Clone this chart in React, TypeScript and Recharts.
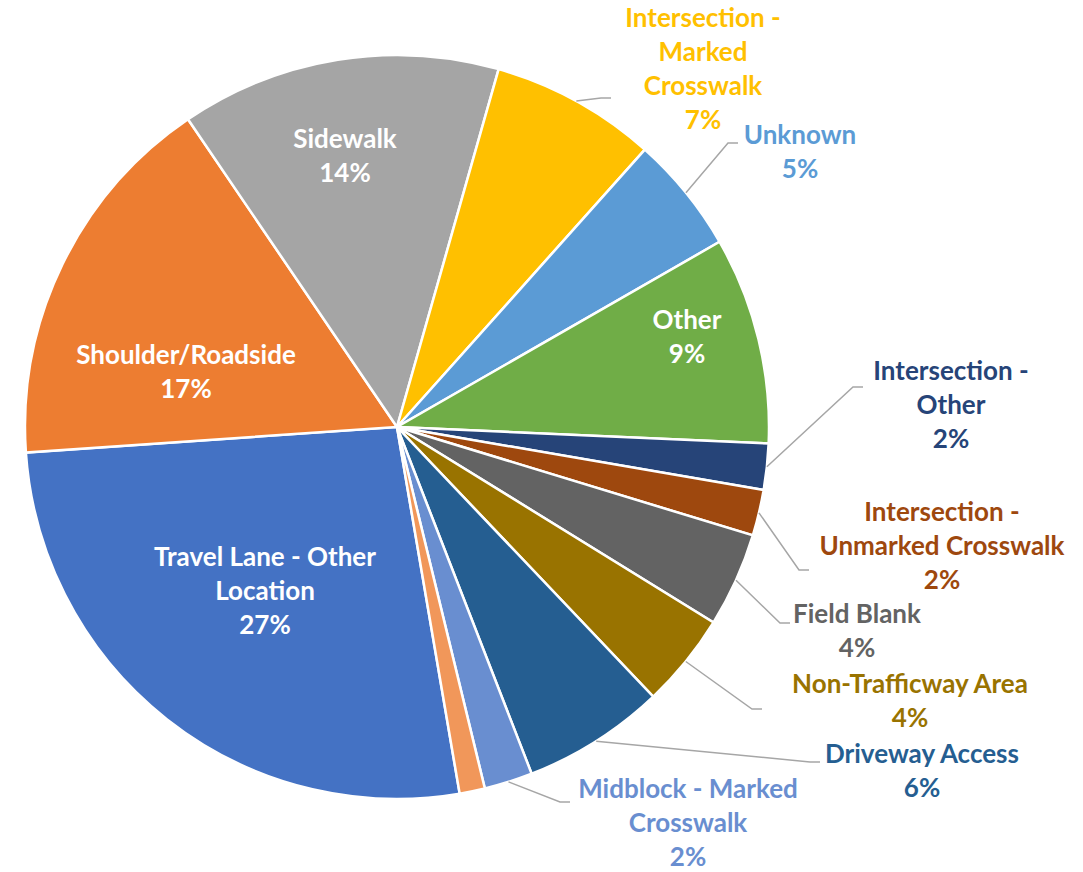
import { Cell, Pie, PieChart } from "recharts";

// location categories, in the order the slices run clockwise
const categories = [
  "Travel Lane - Other Location",
  "Shoulder/Roadside",
  "Sidewalk",
  "Intersection - Marked Crosswalk",
  "Unknown",
  "Other",
  "Intersection - Other",
  "Intersection - Unmarked Crosswalk",
  "Field Blank",
  "Non-Trafficway Area",
  "Driveway Access",
  "Midblock - Marked Crosswalk",
  "Midblock - Unmarked Crosswalk",
];

// share of all cases, percent
const shares = [26.6, 16.6, 13.9, 7.2, 5.1, 9.0, 2.0, 2.0, 4.1, 4.1, 6.2, 2.1, 1.1];

const colors = [
  "#4472C4",
  "#ED7D31",
  "#A5A5A5",
  "#FFC000",
  "#5B9BD5",
  "#70AD47",
  "#264478",
  "#9E480E",
  "#636363",
  "#997300",
  "#255E91",
  "#698ED0",
  "#F1975A",
];

// how the label text wraps (the percent line is added below)
const labelLines: Record<string, string[]> = {
  "Travel Lane - Other Location": ["Travel Lane - Other", "Location"],
  "Shoulder/Roadside": ["Shoulder/Roadside"],
  Sidewalk: ["Sidewalk"],
  "Intersection - Marked Crosswalk": ["Intersection -", "Marked", "Crosswalk"],
  Unknown: ["Unknown"],
  Other: ["Other"],
  "Intersection - Other": ["Intersection -", "Other"],
  "Intersection - Unmarked Crosswalk": ["Intersection -", "Unmarked Crosswalk"],
  "Field Blank": ["Field Blank"],
  "Non-Trafficway Area": ["Non-Trafficway Area"],
  "Driveway Access": ["Driveway Access"],
  "Midblock - Marked Crosswalk": ["Midblock - Marked", "Crosswalk"],
};

// label placement relative to the pie centre; `end` = where the leader line stops
type Spot = { dx: number; dy: number; inside?: boolean; end?: [number, number] };
const labelSpots: Record<string, Spot> = {
  "Travel Lane - Other Location": { dx: -132, dy: 164, inside: true },
  "Shoulder/Roadside": { dx: -211, dy: -55, inside: true },
  Sidewalk: { dx: -52, dy: -271, inside: true },
  "Intersection - Marked Crosswalk": { dx: 306, dy: -358, end: [214, -329] },
  Unknown: { dx: 403, dy: -275, end: [341, -284] },
  Other: { dx: 290, dy: -90, inside: true },
  "Intersection - Other": { dx: 554, dy: -22, end: [466, -40] },
  "Intersection - Unmarked Crosswalk": { dx: 545, dy: 119, end: [412, 143] },
  "Field Blank": { dx: 460, dy: 204, end: [393, 196] },
  "Non-Trafficway Area": { dx: 513, dy: 274, end: [365, 282] },
  "Driveway Access": { dx: 525, dy: 344, end: [423, 335] },
  "Midblock - Marked Crosswalk": { dx: 291, dy: 396, end: [173, 375] },
};

const FONT = "Lato, 'Noto Sans', sans-serif";
const FONT_SIZE = 26;
const LINE = 34;
const RAD = Math.PI / 180;

const data = categories.map((name, i) => ({ name, value: shares[i] }));

function renderLabel(props: any) {
  const { cx, cy, midAngle, outerRadius, percent, index } = props;
  const name = categories[index];
  const spot = labelSpots[name];
  if (!spot) return <g />;
  const lines = [...labelLines[name], `${Math.round(percent * 100)}%`];
  const tx = cx + spot.dx;
  const ty = cy + spot.dy;
  const top = ty - ((lines.length - 1) * LINE) / 2;
  const color = spot.inside ? "#FFFFFF" : colors[index];

  let leader = null;
  if (spot.end) {
    const sx = cx + outerRadius * Math.cos(-midAngle * RAD);
    const sy = cy + outerRadius * Math.sin(-midAngle * RAD);
    const ex = cx + spot.end[0];
    const ey = cy + spot.end[1];
    leader = (
      <polyline
        points={`${sx},${sy} ${ex - 10},${ey} ${ex},${ey}`}
        fill="none"
        stroke="#A6A6A6"
        strokeWidth={1.5}
      />
    );
  }

  return (
    <g>
      {leader}
      <text
        x={tx}
        y={top}
        fill={color}
        textAnchor="middle"
        fontFamily={FONT}
        fontWeight={700}
        fontSize={FONT_SIZE}
      >
        {lines.map((l, i) => (
          <tspan key={i} x={tx} y={top + i * LINE + 9}>
            {l}
          </tspan>
        ))}
      </text>
    </g>
  );
}

export default function App() {
  return (
    <div style={{ position: "absolute", left: 0, top: 0, background: "#fff" }}>
      <PieChart width={1083} height={872} margin={{ top: 0, right: 0, bottom: 0, left: 0 }}>
        <Pie
          data={data}
          dataKey="value"
          nameKey="name"
          cx={397}
          cy={427}
          outerRadius={372}
          startAngle={-80.3}
          endAngle={-440.3}
          stroke="#FFFFFF"
          strokeWidth={2.5}
          label={renderLabel}
          labelLine={false}
          isAnimationActive={false}
        >
          {data.map((d, i) => (
            <Cell key={d.name} fill={colors[i]} />
          ))}
        </Pie>
      </PieChart>
    </div>
  );
}
